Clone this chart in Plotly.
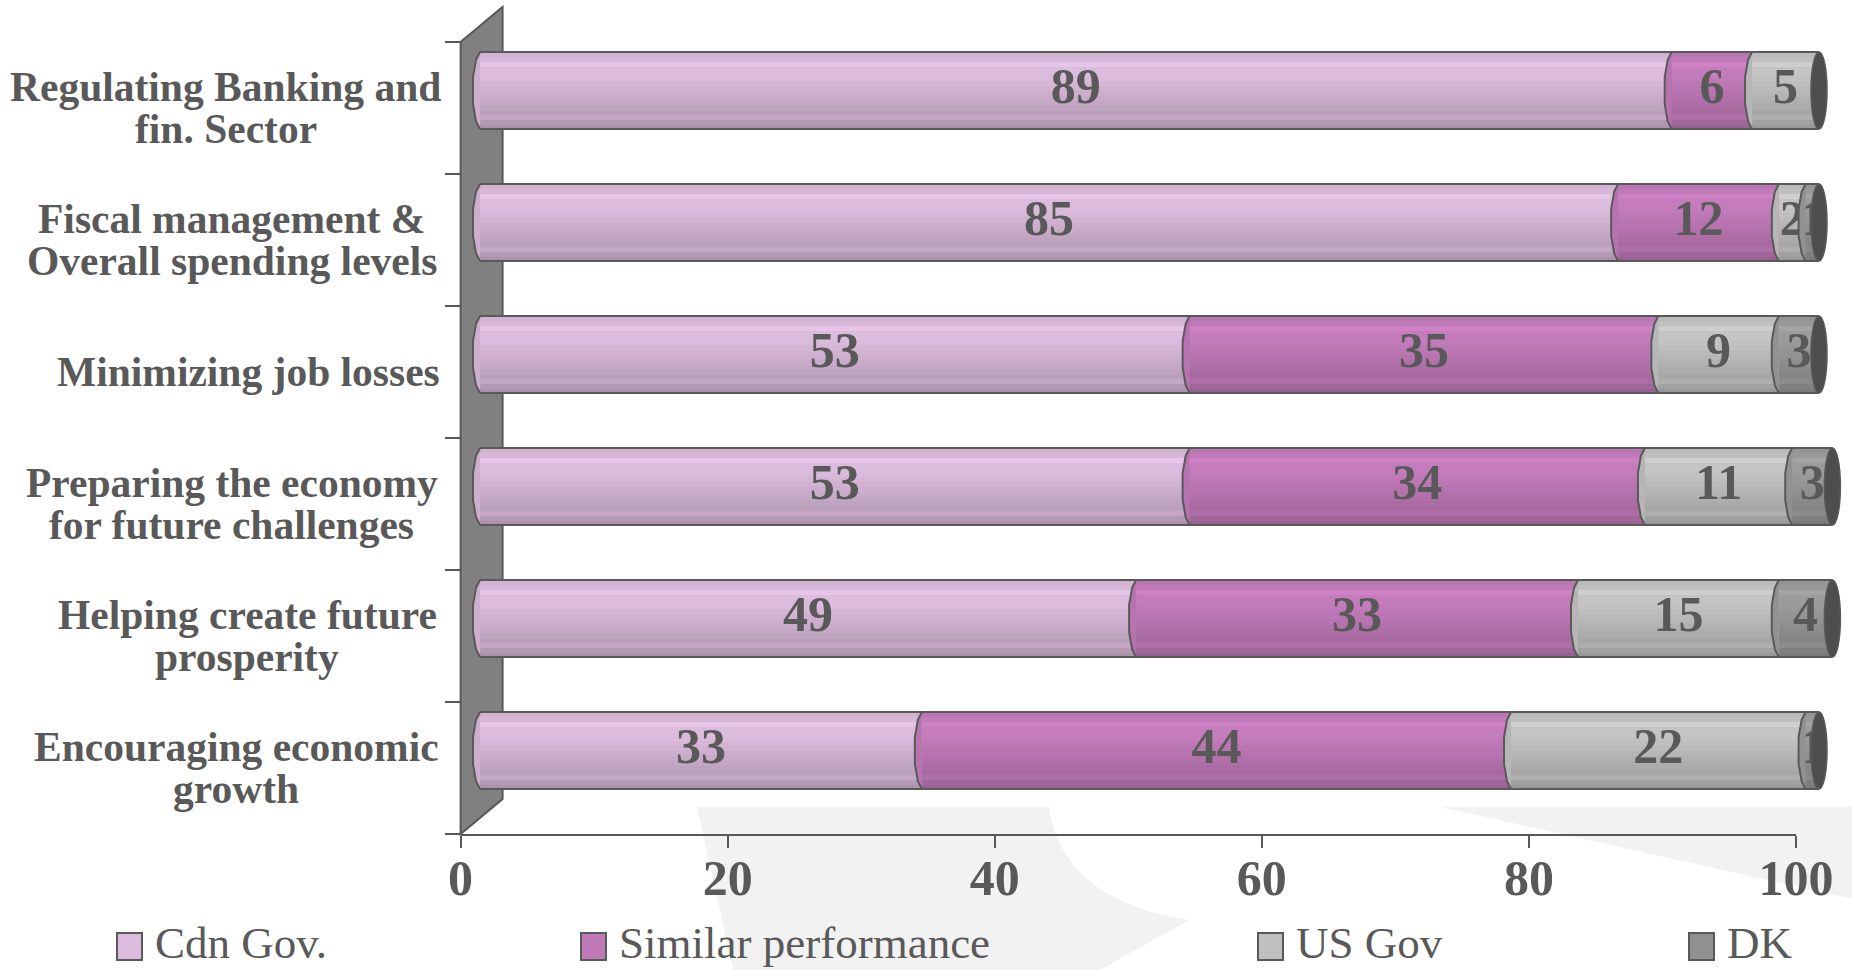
import plotly.graph_objects as go

# ---- data -------------------------------------------------------------
categories = [
    "Regulating Banking and\nfin. Sector",
    "Fiscal management &\nOverall spending levels",
    "Minimizing job losses",
    "Preparing the economy\nfor future challenges",
    "Helping create future\nprosperity",
    "Encouraging economic\ngrowth",
]
series_names = ["Cdn Gov.", "Similar performance", "US Gov", "DK"]
cdn_gov = [89, 85, 53, 53, 49, 33]
similar_perf = [6, 12, 35, 34, 33, 44]
us_gov = [5, 2, 9, 11, 15, 22]
dont_know = [0, 1, 3, 3, 4, 1]
x_ticks = [0, 20, 40, 60, 80, 100]

series_values = [cdn_gov, similar_perf, us_gov, dont_know]

# ---- style ------------------------------------------------------------
W, H = 1852, 970
SERIF = "Liberation Serif"
INK = "#595959"
series_colors = ["#dcbcdc", "#c47cbc", "#c4c4c4", "#9c9c9c"]
legend_colors = ["#dcbcdc", "#c07ab8", "#c0c0c0", "#909090"]
cap_color = "#4e4e4e"

# cylinder shading, top strip to bottom strip
shade = [0.95, 0.98, 1.05, 1.0, 1.0, 0.99, 0.97, 0.95, 0.93, 0.91,
         0.89, 0.87, 0.85, 0.89, 0.82, 0.78]


def fx(px):
    return px / W


def fy(py):
    return 1 - py / H


def tint(hex_color, f):
    r, g, b = (int(hex_color[i:i + 2], 16) for i in (1, 3, 5))
    r, g, b = (max(0, min(255, round(c * f))) for c in (r, g, b))
    return f"#{r:02x}{g:02x}{b:02x}"


# frame of the axis/wall and of the bars (bars sit half-way in depth)
AX0, AX1 = 460.6, 1796.0
AY_TOP, AY_BOT = 42.0, 834.0
BAR_ZERO, BAR_HUNDRED = 480.0, 1819.0      # pixel spots of 0 and 100 on the bar scale
BAR_RANGE = (-2.0, 102.0)                  # room for the rounded ends
DY = 17.5
WALL_DX, WALL_DY = 42.0, 35.0
BAR_PX = 77.0
n = len(categories)
band_px = (AY_BOT - AY_TOP) / n
bar_h = BAR_PX / band_px
strip_h = bar_h / len(shade)
px_per_unit = (BAR_HUNDRED - BAR_ZERO) / 100.0
BX0 = BAR_ZERO + BAR_RANGE[0] * px_per_unit
BX1 = BAR_ZERO + BAR_RANGE[1] * px_per_unit

rows = list(range(n))
bases = []
acc = [0] * n
for vals in series_values:
    bases.append(list(acc))
    acc = [a + v for a, v in zip(acc, vals)]
totals = acc

fig = go.Figure()

# dummy trace so the tick/wall axes are drawn
fig.add_trace(go.Scatter(x=[None], y=[None], xaxis="x", yaxis="y",
                         showlegend=False, hoverinfo="skip"))

# shaded cylinder segments, built from horizontal strips
for s, vals in enumerate(series_values):
    for k, f in enumerate(shade):
        fig.add_trace(go.Bar(
            orientation="h", y=rows, x=vals, base=bases[s],
            width=strip_h * 1.02, offset=-bar_h / 2 + k * strip_h,
            marker=dict(color=tint(series_colors[s], f), line=dict(width=0)),
            xaxis="x2", yaxis="y2", showlegend=False, hoverinfo="skip",
        ))

# top and bottom outline of each cylinder
lx, ly = [], []
for r, t in zip(rows, totals):
    for edge in (-bar_h / 2, bar_h / 2):
        lx += [0, t, None]
        ly += [r + edge, r + edge, None]
fig.add_trace(go.Scatter(x=lx, y=ly, mode="lines", line=dict(color=INK, width=2),
                         xaxis="x2", yaxis="y2", showlegend=False, hoverinfo="skip"))

# value labels centred on each segment
tx, ty, tt = [], [], []
for s, vals in enumerate(series_values):
    for r, (b, v) in enumerate(zip(bases[s], vals)):
        if v > 0:
            tx.append(b + v / 2)
            ty.append(r)
            tt.append(str(v))
fig.add_trace(go.Scatter(
    x=tx, y=ty, text=tt, mode="text", textposition="middle center",
    textfont=dict(family=SERIF, size=50, color=INK, weight="bold"),
    xaxis="x2", yaxis="y2", showlegend=False, hoverinfo="skip",
))

shapes = []

# background swoosh
shapes.append(dict(type="path", xref="paper", yref="paper", layer="below",
                   path=(f"M {fx(697)},{fy(807)} L {fx(1049)},{fy(807)} "
                         f"Q {fx(1062)},{fy(900)} {fx(1189)},{fy(920)} "
                         f"L {fx(1100)},{fy(970)} L {fx(733)},{fy(970)} Z"),
                   fillcolor="#f2f2f2", line=dict(width=0)))
shapes.append(dict(type="path", xref="paper", yref="paper", layer="below",
                   path=(f"M {fx(1441)},{fy(807)} L {fx(1852)},{fy(807)} "
                         f"L {fx(1852)},{fy(899)} Z"),
                   fillcolor="#f2f2f2", line=dict(width=0)))

# side wall of the 3-D frame
shapes.append(dict(type="path", xref="paper", yref="paper", layer="below",
                   path=(f"M {fx(AX0)},{fy(AY_BOT)} L {fx(AX0)},{fy(AY_TOP)} "
                         f"L {fx(AX0 + WALL_DX)},{fy(AY_TOP - WALL_DY)} "
                         f"L {fx(AX0 + WALL_DX)},{fy(AY_BOT - WALL_DY)} Z"),
                   fillcolor="#808080", line=dict(color=INK, width=2)))

# curved left face of each segment and dark end cap of each cylinder
ry = BAR_PX / 2
bulge = (f"M 0,{ry} L -4,{ry * 0.8} L -7,{ry * 0.35} L -7,{-ry * 0.35} "
         f"L -4,{-ry * 0.8} L 0,{-ry}")
for s, vals in enumerate(series_values):
    for r, (b, v) in enumerate(zip(bases[s], vals)):
        if v > 0:
            shapes.append(dict(type="path", xref="x2", yref="y2",
                               xsizemode="pixel", ysizemode="pixel",
                               xanchor=b, yanchor=r, path=bulge,
                               fillcolor=tint(series_colors[s], 0.93),
                               line=dict(color=INK, width=2)))
for r, t in zip(rows, totals):
    shapes.append(dict(type="circle", xref="x2", yref="y2",
                       xsizemode="pixel", ysizemode="pixel",
                       xanchor=t, yanchor=r, x0=-8, x1=8, y0=-ry, y1=ry,
                       fillcolor=cap_color, line=dict(color=INK, width=1.5)))

# legend boxes
legend_box_x = [117, 581, 1258, 1689]
annotations = []
for name, col, bx in zip(series_names, legend_colors, legend_box_x):
    shapes.append(dict(type="rect", xref="paper", yref="paper",
                       x0=fx(bx), x1=fx(bx + 25), y0=fy(960), y1=fy(933),
                       fillcolor=col, line=dict(color=INK, width=2)))
    annotations.append(dict(x=fx(bx + 36), y=fy(943), xref="paper", yref="paper",
                            xanchor="left", yanchor="middle", showarrow=False,
                            text=name, font=dict(family=SERIF, size=45, color=INK)))

# category labels (centred lines, right-aligned block)
label_centres = [225.6, 232.0, 248.6, 232.0, 247.4, 236.2]
line_gap = 42.5
for i, (lab, cx) in enumerate(zip(categories, label_centres)):
    lines = lab.split("\n")
    yc = AY_TOP + band_px * (i + 0.5)
    for j, ln in enumerate(lines):
        yy = yc + (j - (len(lines) - 1) / 2) * line_gap
        annotations.append(dict(x=fx(cx), y=fy(yy), xref="paper", yref="paper",
                                xanchor="center", yanchor="middle", showarrow=False,
                                text=ln,
                                font=dict(family=SERIF, size=41.5, color=INK,
                                          weight="bold")))

fig.update_layout(
    template=None,
    width=W, height=H, margin=dict(l=0, r=0, t=0, b=0, pad=0, autoexpand=False),
    paper_bgcolor="white", plot_bgcolor="rgba(0,0,0,0)",
    barmode="overlay", showlegend=False, bargap=0,
    xaxis=dict(domain=[fx(AX0), fx(AX1)], range=[0, 100], tickvals=x_ticks,
               ticks="outside", ticklen=12, tickwidth=1.5, tickcolor=INK,
               showline=True, linecolor=INK, linewidth=2, showgrid=False,
               zeroline=False, anchor="y", ticklabelstandoff=-13, automargin=False,
               tickfont=dict(family=SERIF, size=50, color=INK, weight="bold")),
    yaxis=dict(domain=[fy(AY_BOT), fy(AY_TOP)], range=[n, 0],
               tickvals=list(range(n + 1)), ticks="outside", ticklen=15,
               tickwidth=1.5, tickcolor=INK, showticklabels=False, automargin=False,
               showline=False, showgrid=False, zeroline=False, anchor="x"),
    xaxis2=dict(domain=[fx(BX0), fx(BX1)], range=list(BAR_RANGE), visible=False,
                anchor="y2", automargin=False),
    yaxis2=dict(domain=[fy(AY_BOT - DY), fy(AY_TOP - DY)], automargin=False,
                range=[n - 0.5, -0.5], visible=False, anchor="x2"),
    shapes=shapes, annotations=annotations,
)

fig.write_html("out.html")
